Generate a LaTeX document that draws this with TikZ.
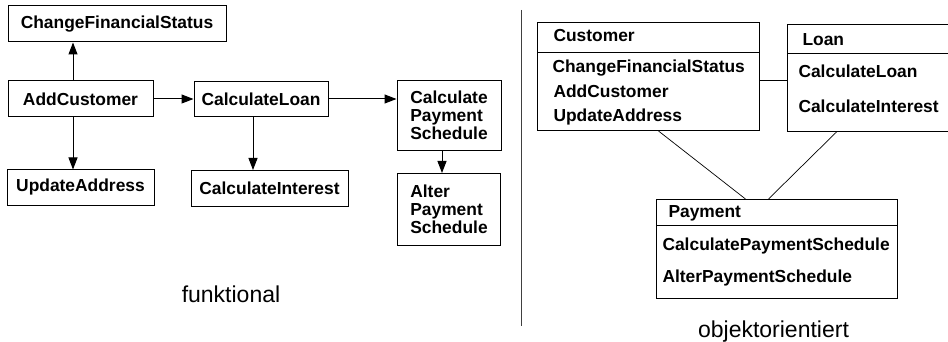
\documentclass[tikz,border=0pt]{standalone}
\usepackage{fontspec}
\setmainfont{Liberation Sans}
\usetikzlibrary{arrows.meta, positioning}

\begin{document}
\begin{tikzpicture} [x = 1pt, y = -1pt, line width = 1pt, on grid,
		func/.style = {draw, inner sep = 0pt, align = left, font = \fontsize{17.4}{18}\selectfont\bfseries},
		cls/.style = {draw, inner sep = 0pt, anchor = north west},
		member/.style = {anchor = base west, inner sep = 0pt, font = \fontsize{17.4}{18}\selectfont\bfseries},
		caption/.style = {anchor = base, inner sep = 0pt, font = \fontsize{23}{26}\selectfont},
		call/.style = {-{Triangle[length = 12pt, width = 9pt]}},
		assoc/.style = {line width = 0.7pt}]
		\useasboundingbox (0,0) rectangle (948,342);

		% Functional side : every node is measured based on AddCustomer
		\node (addcust) [func, minimum width = 145pt, minimum height = 36pt] at (80.5,99) {AddCustomer};

		\node (chfin) [func, minimum width = 218pt, minimum height = 36pt, above right = 75pt and 36.5pt of addcust] {ChangeFinancialStatus};

		\node (updaddr) [func, minimum width = 147pt, minimum height = 35pt, below = 88.5pt of addcust] {UpdateAddress};

		\node (calcloan) [func, minimum width = 134pt, minimum height = 35pt, right = 180.5pt of addcust] {CalculateLoan};

		\node (calcint) [func, minimum width = 157pt, minimum height = 36pt, below right = 89.5pt and 8.5pt of calcloan] {CalculateInterest};

		\node (calcpay) [func, minimum width = 104pt, minimum height = 70pt, below right = 16.5pt and 188pt of calcloan] {Calculate\\Payment\\Schedule};

		\node (alterpay) [func, minimum width = 103pt, minimum height = 72pt, below = 94pt of calcpay] {Alter\\Payment\\Schedule};

		% Calls
		\path [call]
		% AddCustomer => ChangeFinancialStatus || UpdateAddress || CalculateLoan
		([xshift = -7.5pt]addcust.north) edge ([xshift = -7.5pt]addcust.north |- chfin.south)
		([xshift = -7.5pt]addcust.south) edge ([xshift = -7.5pt]addcust.south |- updaddr.north)
		(addcust.east) edge (addcust.east -| calcloan.west)
		% CalculateLoan => CalculateInterest || Calculate Payment Schedule
		([xshift = -8pt]calcloan.south) edge ([xshift = -8pt]calcloan.south |- calcint.north)
		(calcloan.east) edge (calcloan.east -| calcpay.west)
		% Calculate Payment Schedule => Alter Payment Schedule
		([xshift = -7pt]calcpay.south) edge ([xshift = -7pt]calcpay.south |- alterpay.north);

		\node (funk) [caption] at (231,302) {funktional};

		% Divider
		\draw [black!75] (521.5,10) -- (521.5,326);

		% Object oriented side : class boxes with a header
		\node (cust) [cls, minimum width = 222pt, minimum height = 108pt] at (537,22) {};
		\node (custhead) [cls, minimum width = 222pt, minimum height = 30pt] at (cust.north west) {};
		\node (custname) [member] at (553,42) {Customer};
		\node (custop1) [member] at (552,73) {ChangeFinancialStatus};
		\node (custop2) [member] at (553,98) {AddCustomer};
		\node (custop3) [member] at (553,122) {UpdateAddress};

		\node (loan) [cls, minimum width = 166pt, minimum height = 107pt] at (787,24) {};
		\node (loanhead) [cls, minimum width = 166pt, minimum height = 29pt] at (loan.north west) {};
		\node (loanname) [member] at (802,46) {Loan};
		\node (loanop1) [member] at (798,78) {CalculateLoan};
		\node (loanop2) [member] at (798,113) {CalculateInterest};

		\node (pay) [cls, minimum width = 241pt, minimum height = 99pt] at (656,199) {};
		\node (payhead) [cls, minimum width = 241pt, minimum height = 26pt] at (pay.north west) {};
		\node (payname) [member] at (668,217) {Payment};
		\node (payop1) [member] at (662,250) {CalculatePaymentSchedule};
		\node (payop2) [member] at (662,282) {AlterPaymentSchedule};

		% Associations
		\draw [assoc] ([yshift = -4pt]cust.east) -- ([yshift = -2.5pt]loan.west);
		\draw [assoc] ([xshift = 10pt]cust.south) -- ([xshift = -31.5pt]pay.north);
		\draw [assoc] ([xshift = -34pt]loan.south) -- ([xshift = -8.5pt]pay.north);

		\node (oo) [caption] at (773.5,337) {objektorientiert};
	\end{tikzpicture}
\end{document}
